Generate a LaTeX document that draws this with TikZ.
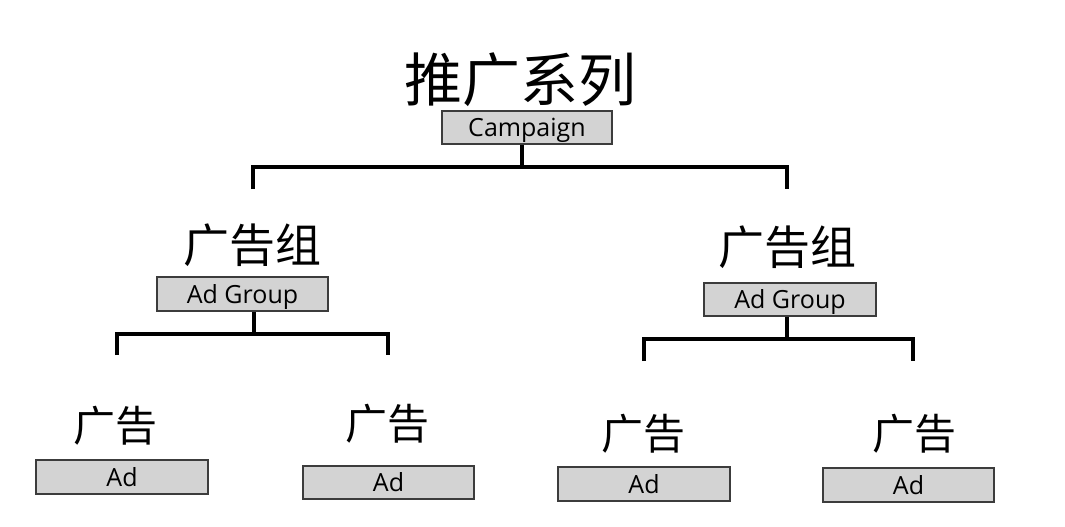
\documentclass[tikz,border=0pt]{standalone}
\usepackage{fontspec}
\setmainfont{Open Sans}
\newfontfamily\cjk{Noto Sans CJK SC}
\definecolor{boxfill}{HTML}{D3D3D3}
\definecolor{boxborder}{HTML}{3C3C3C}
\begin{document}
\begin{tikzpicture}[x=1pt,y=-1pt,
  adbox/.style={draw=boxborder, line width=1.6pt, fill=boxfill, inner sep=0pt,
    font=\fontsize{25}{25}\selectfont, text=black, text height=18pt, text depth=0pt,
    minimum width=171pt, minimum height=33pt},
  conn/.style={line width=4pt, line join=miter, draw=black},
  bigtitle/.style={font=\cjk\fontsize{58}{58}\selectfont, inner sep=0pt},
  grouptitle/.style={font=\cjk\fontsize{46}{46}\selectfont, inner sep=0pt},
  adtitle/.style={font=\cjk\fontsize{42}{42}\selectfont, inner sep=0pt}]
\useasboundingbox[fill=white] (0,0) rectangle (1065,527);

% titles
\node[bigtitle] (ttop) at (520,80) {推广系列};
\node[grouptitle] (tgL) at (252,245) {广告组};
\node[grouptitle] (tgR) at (787,247) {广告组};
\node[adtitle] (ta1) at (115,426) {广告};
\node[adtitle] (ta2) at (387,424) {广告};
\node[adtitle] (ta3) at (643,434) {广告};
\node[adtitle] (ta4) at (914,434) {广告};

% boxes
\node[adbox, minimum width=170pt] (camp) at (527,127.5) {Campaign};
\node[adbox, minimum height=34pt] (gL) at (242.5,294) {Ad Group};
\node[adbox, minimum width=172pt] (gR) at (790,299.5) {Ad Group};
\node[adbox, minimum width=172pt, minimum height=34pt] (a1) at (122,477) {Ad};
\node[adbox] (a2) at (388.5,482.5) {Ad};
\node[adbox, minimum width=172pt, minimum height=34pt] (a3) at (644,484) {Ad};
\node[adbox, minimum height=34pt] (a4) at (908.5,485) {Ad};

% top connector
\coordinate (tj) at (522,167);
\coordinate (t1) at (253,189);
\coordinate (t2) at (787,189);
\draw[conn] (camp.south -| tj) -- (tj);
\draw[conn] (t1) -- (t1 |- tj) -- (t2 |- tj) -- (t2);

% left group connector
\coordinate (lj) at (254,334);
\coordinate (l1) at (117,355);
\coordinate (l2) at (388,355);
\draw[conn] (gL.south -| lj) -- (lj);
\draw[conn] (l1) -- (l1 |- lj) -- (l2 |- lj) -- (l2);

% right group connector
\coordinate (rj) at (787,339);
\coordinate (r1) at (644,361);
\coordinate (r2) at (913,361);
\draw[conn] (gR.south -| rj) -- (rj);
\draw[conn] (r1) -- (r1 |- rj) -- (r2 |- rj) -- (r2);
\end{tikzpicture}
\end{document}
